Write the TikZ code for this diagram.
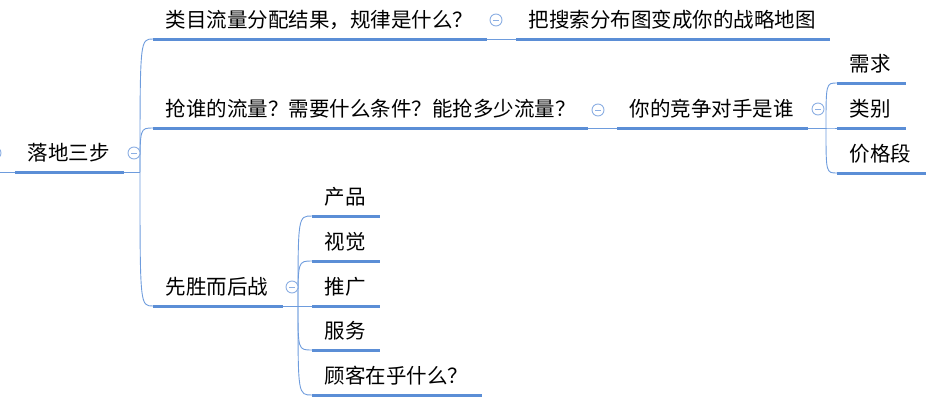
\documentclass[tikz,border=0pt]{standalone}
\usepackage{fontspec}
\newfontfamily\cjk{Noto Sans CJK SC}
\definecolor{uline}{HTML}{5B8ED6}
\definecolor{linkc}{HTML}{6E9CDD}
\definecolor{togc}{HTML}{8CAFE3}
\tikzset{
  topic/.style={anchor=south west, inner xsep=12.5pt, inner ysep=0pt,
    text height=16pt, text depth=11.5pt, align=left,
    font=\cjk\fontsize{20.5}{24}\selectfont, text=black},
  ubar/.style={draw=uline, line width=3pt},
  link/.style={draw=linkc, line width=0.9pt},
  toggle/.style={circle, draw=togc, fill=white, line width=0.9pt,
    minimum size=12pt, inner sep=0pt,
    path picture={\draw[togc, line width=1pt]
      ([xshift=-3pt]path picture bounding box.center) --
      ([xshift=3pt]path picture bounding box.center);}}
}
\begin{document}
\begin{tikzpicture}[x=1pt,y=-1pt]
\useasboundingbox (0,0) rectangle (940,402);
% nodes
\node[topic, text width=84pt] (root) at (15,172) {落地三步};
\node[topic, text width=309pt] (a) at (153,39) {类目流量分配结果，规律是什么？};
\node[topic, text width=289pt] (a2) at (516,39) {把搜索分布图变成你的战略地图};
\node[topic, text width=410pt] (b) at (153,128) {抢谁的流量？需要什么条件？能抢多少流量？};
\node[topic, text width=166pt] (b2) at (617,128) {你的竞争对手是谁};
\node[topic, text width=44pt] (b2a) at (837,83) {需求};
\node[topic, text width=44pt] (b2b) at (837,128) {类别};
\node[topic, text width=64pt] (b2c) at (837,173) {价格段};
\node[topic, text width=105pt] (c) at (153,306) {先胜而后战};
\node[topic, text width=43pt] (c1) at (312,216) {产品};
\node[topic, text width=43pt] (c2) at (312,261) {视觉};
\node[topic, text width=43pt] (c3) at (312,306) {推广};
\node[topic, text width=43pt] (c4) at (312,350) {服务};
\node[topic, text width=145pt] (c5) at (312,395) {顾客在乎什么？};
% joints
\coordinate (in0) at (-10,172);
\coordinate (j0) at (140,172);
\coordinate (j2) at (826,128);
\coordinate (j3) at (298,306);
% connectors
\draw[link] (in0) -- (root.south west);
\draw[link] (root.south east) -- (j0);
\foreach \n in {a,b,c}{
  \draw[link] (j0) .. controls (j0 |- \n.south west) .. (\n.south west);
}
\draw[link] (a.south east) -- (a2.south west);
\draw[link] (b.south east) -- (b2.south west);
\draw[link] (b2.south east) -- (j2);
\foreach \n in {b2a,b2b,b2c}{
  \draw[link] (j2) .. controls (j2 |- \n.south west) .. (\n.south west);
}
\draw[link] (c.south east) -- (c3.south west);
\foreach \n in {c1,c2,c3,c4,c5}{
  \draw[link] (j3) .. controls (j3 |- \n.south west) .. (\n.south west);
}
% underlines
\foreach \n in {root,a,a2,b,b2,b2a,b2b,b2c,c,c1,c2,c3,c4,c5}{
  \draw[ubar] (\n.south west) -- (\n.south east);
}
% toggles
\node[toggle] (t0) at (-5,153) {};
\node[toggle] (t1) at (134,153) {};
\node[toggle] (t2) at (496,20) {};
\node[toggle] (t3) at (598,110) {};
\node[toggle] (t4) at (818,109) {};
\node[toggle] (t5) at (292,287) {};
\end{tikzpicture}
\end{document}
